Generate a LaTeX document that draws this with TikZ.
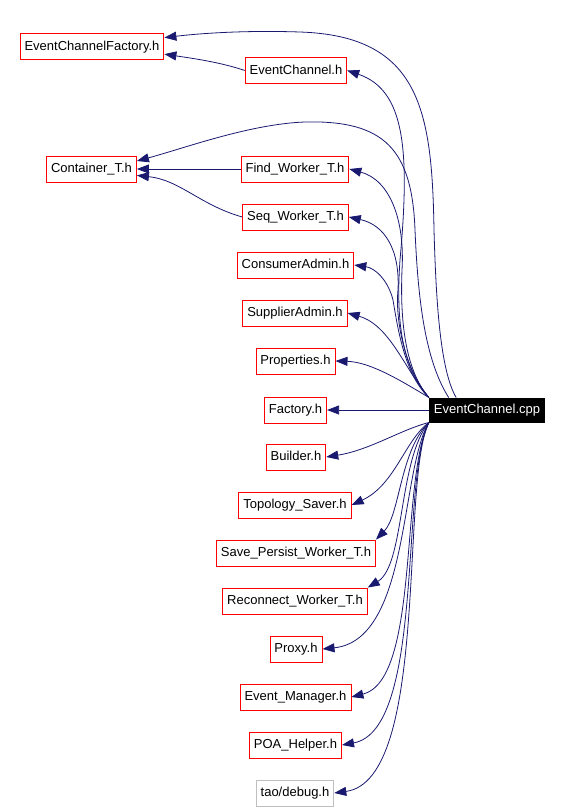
\documentclass[tikz,border=0pt]{standalone}
\usepackage{fontspec}
\setmainfont{Liberation Sans}
\usepackage{xcolor}
\usepackage{tikz}
\usetikzlibrary{arrows.meta, positioning}

\definecolor{edgeblue}{HTML}{191970}
\definecolor{boxgray}{HTML}{BFBFBF}

\begin{document}
\begin{tikzpicture}[x=1pt, y=-1pt,
  hdr/.style={draw=red, line width=0.9pt, fill=white, inner xsep=4.5pt,
              inner ysep=0pt, minimum height=26pt, text height=9.5pt,
              text depth=2.5pt, font=\fontsize{13}{15}\selectfont},
  dep/.style={draw=edgeblue, line width=0.8pt,
              -{Triangle[length=12pt, width=9pt]}}]
\useasboundingbox (0,0) rectangle (563,811);

% source file
\node[hdr, draw=black, fill=black, text=white, minimum height=24pt] (cpp) at (487,410) {EventChannel.cpp};

% included headers
\node[hdr] (ecf) at (92,46.5) {EventChannelFactory.h};
\node[hdr] (ech) at (296,70.5) {EventChannel.h};
\node[hdr] (ct)  at (91.5,169) {Container\_T.h};
\node[hdr] (fw)  at (295,169) {Find\_Worker\_T.h};
\node[hdr] (sw)  at (295.5,217) {Seq\_Worker\_T.h};
\node[hdr] (ca)  at (295.5,265) {ConsumerAdmin.h};
\node[hdr] (sa)  at (295,313) {SupplierAdmin.h};
\node[hdr] (pr)  at (295.5,361) {Properties.h};
\node[hdr] (fa)  at (295.5,410) {Factory.h};
\node[hdr] (bu)  at (296,457) {Builder.h};
\node[hdr] (ts)  at (295,505) {Topology\_Saver.h};
\node[hdr] (spw) at (296,553) {Save\_Persist\_Worker\_T.h};
\node[hdr] (rw)  at (295,601) {Reconnect\_Worker\_T.h};
\node[hdr] (px)  at (296,649) {Proxy.h};
\node[hdr] (em)  at (295.5,697) {Event\_Manager.h};
\node[hdr] (poa) at (295.5,745) {POA\_Helper.h};
\node[hdr, draw=boxgray] (dbg) at (295,793) {tao/debug.h};

% long ones over the top
\draw[dep] (cpp.158) .. controls (440,370) and (436,300) .. (434,230)
  .. controls (432,110) and (420,36) .. (300,32)
  .. controls (240,30) and (195,34) .. (ecf.7.5);
\draw[dep] (cpp.162) .. controls (425,360) and (418,300) .. (415,230)
  .. controls (412,150) and (385,120) .. (305,122)
  .. controls (250,124) and (185,148) .. (ct.10);

% upper fan
\draw[dep] (cpp.north west) .. controls (405,370) and (395,330) .. (400,260)
  .. controls (410,150) and (405,90) .. (ech.east);
\draw[dep] (cpp.north west) .. controls (405,370) and (400,320) .. (402,270)
  .. controls (405,220) and (390,180) .. (fw.east);
\draw[dep] (cpp.north west) .. controls (405,370) and (395,320) .. (398,290)
  .. controls (400,250) and (385,225) .. (sw.east);
\draw[dep] (cpp.north west) .. controls (405,375) and (398,330) .. (393,300)
  .. controls (388,280) and (375,268) .. (ca.east);
\draw[dep] (cpp.north west) .. controls (405,370) and (390,325) .. (sa.east);
\draw[dep] (cpp.north west) .. controls (400,380) and (370,362) .. (pr.east);
\draw[dep] (cpp.west) -- (fa.east);

% lower fan
\draw[dep] (cpp.south west) .. controls (400,430) and (370,450) .. (bu.east);
\draw[dep] (cpp.south west) .. controls (405,440) and (395,485) .. (ts.east);
\draw[dep] (cpp.south west) .. controls (400,450) and (400,515) .. (spw.north east);
\draw[dep] (cpp.south west) .. controls (398,460) and (405,565) .. (rw.north east);
\draw[dep] (cpp.south west) .. controls (400,470) and (410,640) .. (px.east);
\draw[dep] (cpp.south west) .. controls (400,480) and (420,680) .. (em.east);
\draw[dep] (cpp.south west) .. controls (400,480) and (425,730) .. (poa.east);
\draw[dep] (cpp.south west) .. controls (400,480) and (430,780) .. (dbg.east);

% between headers
\draw[dep] (ech.west) .. controls (220,62) and (190,58) .. (ecf.-6.7);
\draw[dep] (fw.west) -- (ct.east);
\draw[dep] (sw.west) .. controls (200,205) and (180,180) .. (ct.-8.7);
\end{tikzpicture}
\end{document}
